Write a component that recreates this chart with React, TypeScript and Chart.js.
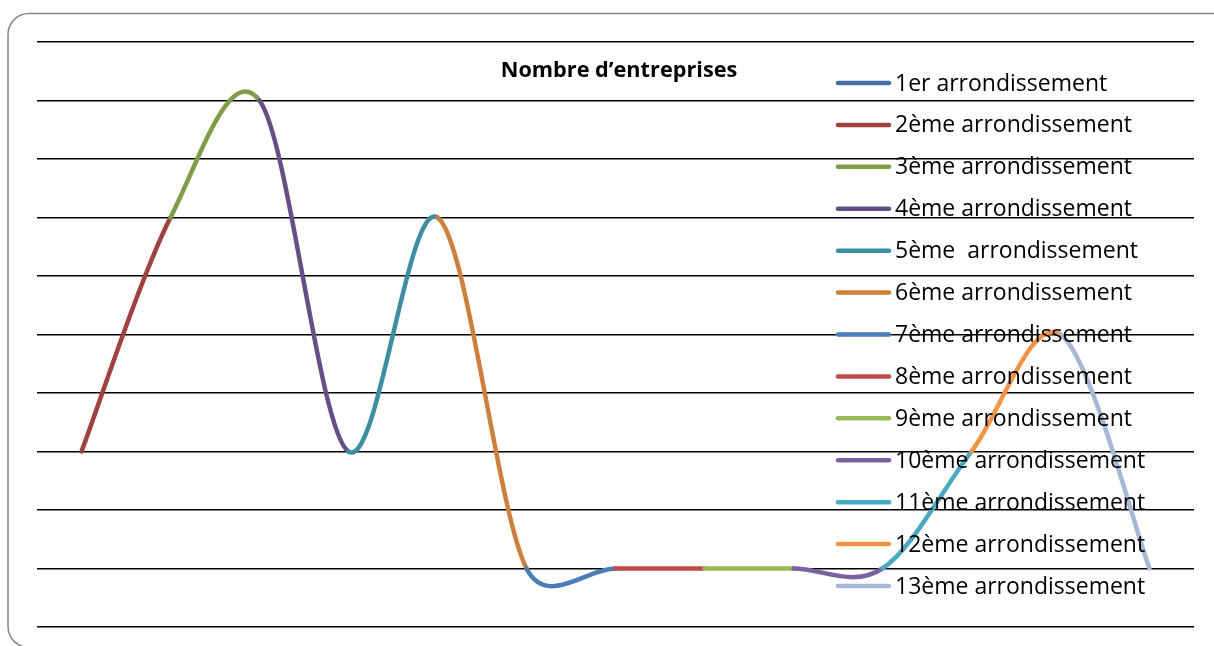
import React, { useEffect, useRef } from "react";
import { Chart, registerables } from "chart.js";

Chart.register(...registerables);

const TITLE = "Nombre d’entreprises";

const seriesNames: string[] = [
  "1er arrondissement",
  "2ème arrondissement",
  "3ème arrondissement",
  "4ème arrondissement",
  "5ème  arrondissement",
  "6ème arrondissement",
  "7ème arrondissement",
  "8ème arrondissement",
  "9ème arrondissement",
  "10ème arrondissement",
  "11ème arrondissement",
  "12ème arrondissement",
  "13ème arrondissement",
];

const categories: string[] = ["1", "2", "3", "4", "5", "6", "7", "8", "9", "10", "11", "12", "13"];

const values: number[] = [3, 7, 9, 3, 7, 1, 1, 1, 1, 1, 3, 5, 1];

const seriesColors: string[] = [
  "#4372AA",
  "#A2403D",
  "#7E9E46",
  "#654F88",
  "#3A8FA5",
  "#D17F36",
  "#4A7EBB",
  "#BE4B48",
  "#98B954",
  "#7D60A0",
  "#46AAC5",
  "#F69240",
  "#A5B8D7",
];

const yTicks: number[] = [0, 10, 1]; // min, max, step

const framePlugin = {
  id: "frame",
  beforeDraw(chart: any) {
    const ctx = chart.ctx;
    ctx.save();
    ctx.fillStyle = "#ffffff";
    ctx.fillRect(0, 0, chart.width, chart.height);
    ctx.strokeStyle = "#878787";
    ctx.lineWidth = 1.5;
    ctx.beginPath();
    ctx.roundRect(8, 13.5, 1250, 634, 21);
    ctx.stroke();
    ctx.restore();
  },
};

// Excel-style smoothing: Catmull-Rom (1/6) with control distance capped at half the segment length
const excelSmoothPlugin = {
  id: "excelSmooth",
  beforeDatasetDraw(chart: any, args: any) {
    const meta = args.meta;
    const line = meta.dataset;
    if (!line) return;
    line.updateControlPoints(chart.chartArea, "x");
    const pts = meta.data;
    const n = pts.length;
    const dist = (a: any, b: any) => Math.hypot(b.x - a.x, b.y - a.y);
    for (let i = 0; i < n - 1; i++) {
      const p0 = pts[i - 1] || pts[i];
      const p1 = pts[i];
      const p2 = pts[i + 1];
      const p3 = pts[i + 2] || pts[i + 1];
      const d12 = dist(p1, p2);
      const d02 = dist(p0, p2);
      const d13 = dist(p1, p3);
      const f1 = d02 / 6 < d12 / 2 ? 1 / 6 : d12 / (2 * d02);
      const f2 = d13 / 6 < d12 / 2 ? 1 / 6 : d12 / (2 * d13);
      p1.cp2x = p1.x + (p2.x - p0.x) * f1;
      p1.cp2y = p1.y + (p2.y - p0.y) * f1;
      p2.cp1x = p2.x - (p3.x - p1.x) * f2;
      p2.cp1y = p2.y - (p3.y - p1.y) * f2;
    }
  },
};

const overlayPlugin = {
  id: "overlay",
  afterDraw(chart: any) {
    const ctx = chart.ctx;
    ctx.save();
    ctx.fillStyle = "#000";
    ctx.font = 'bold 21.7px "Open Sans"';
    ctx.textAlign = "center";
    ctx.textBaseline = "middle";
    ctx.fillText(TITLE, 619, 71);
    ctx.textAlign = "left";
    ctx.font = '23px "Open Sans"';
    seriesNames.forEach((name, i) => {
      const y = 83 + i * 41.92;
      ctx.strokeStyle = seriesColors[i];
      ctx.lineWidth = 4.5;
      ctx.lineCap = "round";
      ctx.beginPath();
      ctx.moveTo(838, y);
      ctx.lineTo(889, y);
      ctx.stroke();
      ctx.fillStyle = "#000";
      ctx.fillText(name, 895, y + 1);
    });
    ctx.restore();
  },
};

export default function App() {
  const ref = useRef<HTMLCanvasElement | null>(null);
  useEffect(() => {
    if (!ref.current) return;
    const chart = new Chart(ref.current, {
      type: "line",
      data: {
        labels: categories,
        datasets: [
          {
            label: TITLE,
            data: values,
            borderWidth: 4.5,
            borderCapStyle: "round",
            borderJoinStyle: "round",
            pointRadius: 0,
            tension: 0.4,
            fill: false,
            borderColor: seriesColors[1],
            segment: {
              borderColor: (c: any) => seriesColors[c.p0DataIndex + 1],
            },
          },
        ],
      },
      options: {
        responsive: false,
        animation: false,
        devicePixelRatio: 1,
        layout: { padding: { left: 37, right: 20, top: 42, bottom: 19 } },
        plugins: {
          legend: { display: false },
          title: { display: false },
          tooltip: { enabled: false },
        },
        scales: {
          x: { display: false, offset: true },
          y: {
            min: yTicks[0],
            max: yTicks[1],
            ticks: { display: false, stepSize: yTicks[2] },
            border: { display: false },
            grid: { color: "#000", lineWidth: 1.5, drawTicks: false },
          },
        },
      },
      plugins: [framePlugin, excelSmoothPlugin, overlayPlugin],
    } as any);
    return () => chart.destroy();
  }, []);
  return (
    <div style={{ position: "fixed", left: 0, top: 0, width: 1214, height: 646, background: "#fff" }}>
      <canvas ref={ref} width={1214} height={646} style={{ display: "block" }} />
    </div>
  );
}
